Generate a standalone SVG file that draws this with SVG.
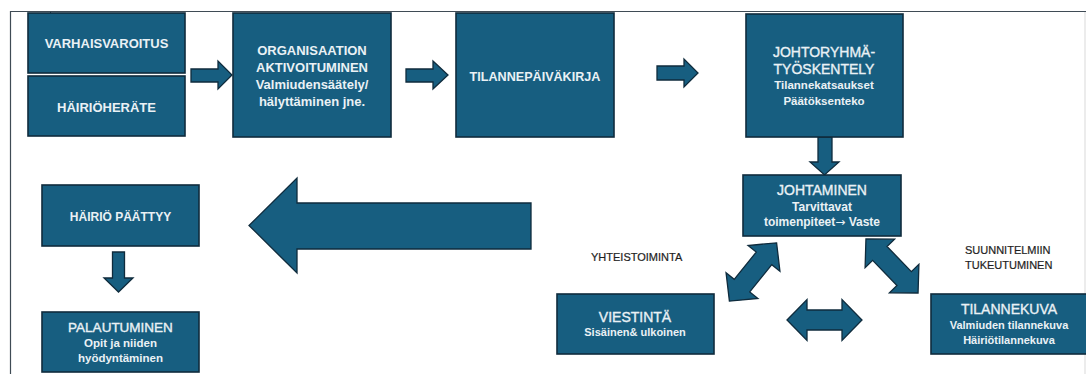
<svg xmlns="http://www.w3.org/2000/svg" width="1086" height="374" viewBox="0 0 1086 374">
<style>
.box{fill:#175e80;stroke:#0f2b3c;stroke-width:1.6}
.arr{fill:#175e80;stroke:#0f2b3c;stroke-width:1.3;stroke-linejoin:miter}
text{font-family:"Liberation Sans",Arial,sans-serif;text-anchor:middle;fill:#eaf1f5}
.b{font-weight:bold;font-size:13px}
.t{font-size:14px;stroke:#eaf1f5;stroke-width:0.35}
.s{font-weight:bold;font-size:11.5px}
.lbl{font-size:11px;fill:#1e1e1e;text-anchor:start;stroke:#1e1e1e;stroke-width:0.2}
</style>
<defs>
<polygon id="dbl" points="-37.5,0 -17.5,-20.5 -17.5,-10 17.5,-10 17.5,-20.5 37.5,0 17.5,20.5 17.5,10 -17.5,10 -17.5,20.5"/>
</defs>
<rect width="1086" height="374" fill="#ffffff"/>
<g id="frame" fill="none">
<line x1="10" y1="11.5" x2="1086" y2="11.5" stroke="#3f4b55" stroke-width="1.2"/>
<line x1="10.5" y1="11" x2="10.5" y2="374" stroke="#3f4b55" stroke-width="1.2"/>
<line x1="50.5" y1="11" x2="50.5" y2="14" stroke="#3f4b55" stroke-width="1"/>
<line x1="1085" y1="12" x2="1085" y2="374" stroke="#d9d9d9" stroke-width="1"/>
</g>
<g id="connectors">
<polygon class="arr" points="191,69 218,69 218,61 232,75 218,89 218,82 191,82"/>
<polygon class="arr" points="406,69 433,69 433,61 448,75 433,89 433,82 406,82"/>
<polygon class="arr" points="657,66 684,66 684,59 698,73 684,87 684,80 657,80"/>
<polygon class="arr" points="818,137 832,137 832,162 839,162 824.5,175 810,162 818,162"/>
<polygon class="arr" points="531,203 297,203 297,178 249,225.5 297,273 297,249 531,249"/>
<polygon class="arr" points="112.5,252 124.5,252 124.5,278 133,278 118.5,292 104,278 112.5,278"/>
<use href="#dbl" class="arr" transform="translate(753 272) rotate(-51)"/>
<use href="#dbl" class="arr" transform="translate(892 266) rotate(46)"/>
<use href="#dbl" class="arr" transform="translate(824.5 320)"/>
</g>
<g id="varhaisvaroitus">
<rect class="box" x="28" y="13" width="157" height="60"/>
<text class="b" x="106.5" y="47.7">VARHAISVAROITUS</text>
</g>
<g id="hairioherate">
<rect class="box" x="28" y="76" width="157" height="60"/>
<text class="b" x="106.5" y="111.7">HÄIRIÖHERÄTE</text>
</g>
<g id="organisaatio">
<rect class="box" x="233" y="13" width="158" height="124"/>
<text class="b" x="312" y="54.7">ORGANISAATION</text>
<text class="b" x="312" y="71.7">AKTIVOITUMINEN</text>
<text class="b" x="312" y="88.5">Valmiudensäätely/</text>
<text class="b" x="312" y="106">hälyttäminen jne.</text>
</g>
<g id="tilannepaivakirja">
<rect class="box" x="456" y="13" width="158" height="124"/>
<text class="b" x="535" y="80.7" style="font-size:12.6px">TILANNEPÄIVÄKIRJA</text>
</g>
<g id="johtoryhma">
<rect class="box" x="746" y="14" width="157" height="123"/>
<text class="t" x="824" y="57">JOHTORYHMÄ-</text>
<text class="t" x="824" y="74">TYÖSKENTELY</text>
<text class="s" x="824" y="88.5">Tilannekatsaukset</text>
<text class="s" x="824" y="104.5">Päätöksenteko</text>
</g>
<g id="johtaminen">
<rect class="box" x="743" y="175" width="158" height="61"/>
<text class="t" x="822" y="195">JOHTAMINEN</text>
<text class="s" x="822" y="210.5" style="font-size:12px">Tarvittavat</text>
<text class="s" x="822" y="225.5" style="font-size:12px">toimenpiteet<tspan style="font-family:'DejaVu Sans',sans-serif;font-weight:normal">→</tspan> Vaste</text>
</g>
<g id="hairio-paattyy">
<rect class="box" x="42" y="185" width="157" height="61"/>
<text class="b" x="120.5" y="220.5" style="font-size:12px">HÄIRIÖ PÄÄTTYY</text>
</g>
<g id="palautuminen">
<rect class="box" x="42" y="312" width="157" height="60"/>
<text class="t" x="120.5" y="332" style="font-size:13.5px">PALAUTUMINEN</text>
<text class="s" x="120.5" y="347">Opit ja niiden</text>
<text class="s" x="120.5" y="362">hyödyntäminen</text>
</g>
<g id="viestinta">
<rect class="box" x="557" y="294" width="157" height="60"/>
<text class="t" x="635" y="322">VIESTINTÄ</text>
<text class="s" x="635" y="335.5" style="font-size:11px">Sisäinen&amp; ulkoinen</text>
</g>
<g id="tilannekuva">
<rect class="box" x="931" y="294" width="160" height="60"/>
<text class="t" x="1009" y="314">TILANNEKUVA</text>
<text class="s" x="1009" y="328.5" style="font-size:11px">Valmiuden tilannekuva</text>
<text class="s" x="1009" y="343.5" style="font-size:11px">Häiriötilannekuva</text>
</g>
<g id="labels">
<text class="lbl" x="591" y="261">YHTEISTOIMINTA</text>
<text class="lbl" x="965" y="254">SUUNNITELMIIN</text>
<text class="lbl" x="965" y="269">TUKEUTUMINEN</text>
</g>
</svg>
